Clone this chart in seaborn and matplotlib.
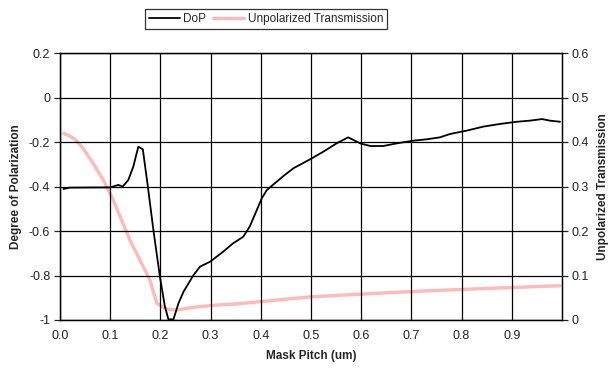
import matplotlib
matplotlib.use("Agg")
import matplotlib.pyplot as plt
import seaborn as sns
import pandas as pd
from matplotlib.lines import Line2D

sns.set_style("white")
plt.rcParams['font.family'] = ['Liberation Sans', 'DejaVu Sans']

dop_pitch = [0.007, 0.02, 0.10, 0.116, 0.125, 0.136, 0.146, 0.156, 0.165, 0.175,
             0.186, 0.199, 0.209, 0.216, 0.226, 0.236, 0.246, 0.266, 0.279, 0.299,
             0.325, 0.345, 0.365, 0.378, 0.402, 0.412, 0.445, 0.465, 0.498, 0.525,
             0.551, 0.574, 0.598, 0.618, 0.644, 0.671, 0.704, 0.730, 0.757, 0.777,
             0.810, 0.843, 0.876, 0.910, 0.936, 0.960, 0.976, 0.996]
dop_value = [-0.411, -0.405, -0.404, -0.393, -0.400, -0.371, -0.311, -0.221, -0.233, -0.400,
             -0.595, -0.805, -0.940, -0.997, -0.997, -0.925, -0.873, -0.798, -0.760, -0.738,
             -0.693, -0.655, -0.626, -0.580, -0.453, -0.416, -0.353, -0.318, -0.278, -0.243,
             -0.206, -0.179, -0.206, -0.218, -0.218, -0.206, -0.194, -0.188, -0.179, -0.164,
             -0.149, -0.131, -0.119, -0.109, -0.104, -0.097, -0.104, -0.109]

tr_pitch = [0.007, 0.02, 0.03, 0.046, 0.066, 0.086, 0.103, 0.12, 0.139, 0.159, 0.179,
            0.193, 0.213, 0.232, 0.266, 0.312, 0.352, 0.378, 0.498, 0.598, 0.700,
            0.806, 0.900, 0.996]
tr_value = [0.4195, 0.413, 0.406, 0.386, 0.352, 0.315, 0.277, 0.232, 0.180, 0.135, 0.090,
            0.0375, 0.024, 0.0225, 0.0285, 0.0337, 0.036, 0.039, 0.052, 0.058, 0.064,
            0.069, 0.073, 0.077]

x_ticks = [0.0, 0.1, 0.2, 0.3, 0.4, 0.5, 0.6, 0.7, 0.8, 0.9]
x_tick_labels = ["0.0", "0.1", "0.2", "0.3", "0.4", "0.5", "0.6", "0.7", "0.8", "0.9"]
left_ticks = [0.2, 0, -0.2, -0.4, -0.6, -0.8, -1]
left_tick_labels = ["0.2", "0", "-0.2", "-0.4", "-0.6", "-0.8", "-1"]
right_ticks = [0.6, 0.5, 0.4, 0.3, 0.2, 0.1, 0]
right_tick_labels = ["0.6", "0.5", "0.4", "0.3", "0.2", "0.1", "0"]

dop_df = pd.DataFrame({"pitch": dop_pitch, "DoP": dop_value})
tr_df = pd.DataFrame({"pitch": tr_pitch, "T": tr_value})

fig = plt.figure(figsize=(6.08, 3.70), dpi=100)
ax = fig.add_axes([60/608, 1-320/370, 502/608, 267/370])
ax2 = ax.twinx()

pink = "#FFB9B9"
sns.lineplot(data=tr_df, x="pitch", y="T", ax=ax2, color=pink, lw=2.4, zorder=2)
sns.lineplot(data=dop_df, x="pitch", y="DoP", ax=ax, color="black", lw=1.3, zorder=3)

ax.set_zorder(ax2.get_zorder() + 1)
ax.patch.set_visible(False)

ax.set_xlim(0, 1.0)
ax.set_ylim(-1, 0.2)
ax2.set_ylim(0, 0.6)

ax.set_xticks(x_ticks)
ax.set_xticklabels(x_tick_labels, fontsize=9)
ax.set_yticks(left_ticks)
ax.set_yticklabels(left_tick_labels, fontsize=9)
ax2.set_yticks(right_ticks)
ax2.set_yticklabels(right_tick_labels, fontsize=9)

ax.grid(True, color="black", lw=0.9)
ax2.grid(False)
for a in (ax, ax2):
    for s in a.spines.values():
        s.set_color("black")
        s.set_linewidth(0.9)
ax.tick_params(axis="both", direction="out", length=4, width=0.9, colors="#222222", pad=3)
ax2.tick_params(axis="y", direction="out", length=4, width=0.9, colors="#222222", pad=3)

ax.set_xlabel("Mask Pitch (um)", fontsize=8.5, fontweight="bold", labelpad=6)
ax.set_ylabel("Degree of Polarization", fontsize=8.5, fontweight="bold", labelpad=5)
ax2.set_ylabel("Unpolarized Transmission", fontsize=8.5, fontweight="bold", labelpad=6)

handles = [Line2D([0], [0], color="black", lw=1.3),
           Line2D([0], [0], color=pink, lw=2.4)]
leg = fig.legend(handles, ["DoP", "Unpolarized Transmission"], loc="center",
                 bbox_to_anchor=(266/608, 1-19/370), ncol=2, fontsize=8.5,
                 frameon=True, fancybox=False, edgecolor="black", handlelength=2.6,
                 columnspacing=0.6, handletextpad=0.3, borderpad=0.35)
leg.get_frame().set_linewidth(0.9)

fig.savefig("out.png", dpi=100)
